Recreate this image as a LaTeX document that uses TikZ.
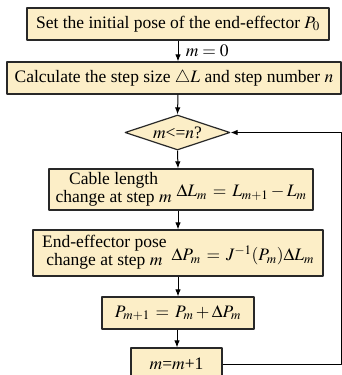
\documentclass[tikz,border=0pt]{standalone}
\usepackage{mathptmx}
\usepackage{fontspec}
\setmainfont{Liberation Serif}
\usetikzlibrary{shapes.geometric,arrows.meta}
\definecolor{boxfill}{RGB}{252,238,199}
\definecolor{edgegray}{RGB}{40,40,40}

\begin{document}
\begin{tikzpicture}[
    x=1pt,
    y=-1pt,
    line join=round,
    font=\fontsize{17.5}{18}\selectfont,
    stepbox/.style={draw=edgegray, line width=1.2pt, fill=boxfill,
        inner xsep=1pt, inner ysep=0pt, minimum height=32pt},
    testbox/.style={diamond, aspect=3, draw=edgegray, line width=1.2pt,
        fill=boxfill, inner sep=0pt, minimum width=105pt, minimum height=35pt},
    flow/.style={line width=1pt, -{Latex[length=7pt,width=5.5pt]}}
]
    \useasboundingbox (0,0) rectangle (342,375);

    % 流程框
    \node[stepbox, minimum width=302pt] (set) at (178,24)
        {Set the initial pose of the end-effector $P_0$};
    \node[stepbox, minimum width=334pt] (calc) at (174,78)
        {Calculate the step size $\triangle L$ and step number $n$};
    \node[testbox] (test) at (177.5,132.5) {$m$<=$n$?};
    \node[stepbox, minimum width=264pt, minimum height=41pt] (cable) at (181,189.5)
        {\begin{tabular}{@{}c@{}}Cable length\\change at step $m$\end{tabular}\hspace{5pt}%
         \raisebox{-3pt}{$\Delta L_m\,=\,L_{m+1}-L_m$}};
    \node[stepbox, minimum width=290pt, minimum height=46pt] (pose) at (178,253)
        {\begin{tabular}{@{}c@{}}End-effector pose\\change at step $m$\end{tabular}\hspace{5pt}%
         \raisebox{-3pt}{$\Delta P_m\,=\,J^{-1}(P_m)\Delta L_m$}};
    \node[stepbox, minimum width=152pt] (upd) at (178,313)
        {$P_{m+1}\,=\,P_m+\Delta P_m$};
    \node[stepbox, minimum width=91pt] (inc) at (176.5,364) {$m$=$m$+1};

    % 回路的右侧竖线
    \coordinate (back) at (341,0);

    % 连线
    \draw[flow] (set.south -| 178,0) -- (178,0 |- calc.north)
        node[midway, right, xshift=4pt] {$m=0$};
    \draw[flow] (178,0 |- calc.south) -- (test.north);
    \draw[flow] (test.south) -- (178,0 |- cable.north);
    \draw[flow] (178,0 |- cable.south) -- (178,0 |- pose.north);
    \draw[flow] (pose.south) -- (upd.north);
    \draw[flow] (upd.south -| 177,0) -- (177,0 |- inc.north);
    \draw[flow] (inc.east) -- (inc.east -| back) |- (test.east);
\end{tikzpicture}
\end{document}
